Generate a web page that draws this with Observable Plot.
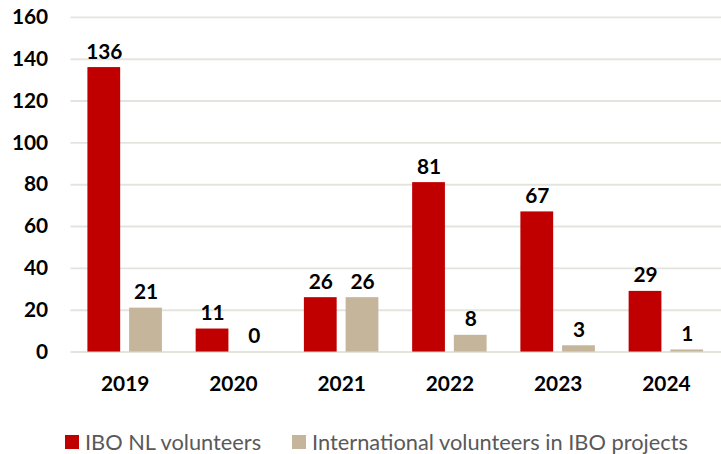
<!DOCTYPE html>
<html>
<head>
<meta charset="utf-8">
<script src="https://cdn.jsdelivr.net/npm/d3@7"></script>
<script src="https://cdn.jsdelivr.net/npm/@observablehq/plot@0.6"></script>
<style>
  html, body { margin: 0; padding: 0; background: #fff; }
  #wrap { position: relative; width: 721px; height: 454px; overflow: hidden; }
  #chart { position: absolute; left: 0; top: 0; }
  .legend { position: absolute; left: 0; top: 400px; width: 721px; height: 54px; font-family: Lato, sans-serif; font-size: 21.8px; color: #595959; }
  .item { position: absolute; top: 28px; display: flex; align-items: center; white-space: nowrap; }
  .sw { width: 14px; height: 14px; margin-right: 6px; }
</style>
</head>
<body>
<div id="wrap">
  <div id="chart"></div>
  <div class="legend">
    <div class="item" style="left:65px"><span class="sw" style="background:#c00000"></span><span>IBO NL volunteers</span></div>
    <div class="item" style="left:292px"><span class="sw" style="background:#c4b59b"></span><span>International volunteers in IBO projects</span></div>
  </div>
</div>
<script>
const years = ["2019", "2020", "2021", "2022", "2023", "2024"];
const nlVolunteers = [136, 11, 26, 81, 67, 29];
const intlVolunteers = [21, 0, 26, 8, 3, 1];
const seriesNames = ["IBO NL volunteers", "International volunteers in IBO projects"];
const seriesColors = ["#c00000", "#c4b59b"];
const yTicks = [0, 20, 40, 60, 80, 100, 120, 140, 160];

const nlData = years.map((y, i) => ({year: y, value: nlVolunteers[i], series: seriesNames[0]}));
const intlData = years.map((y, i) => ({year: y, value: intlVolunteers[i], series: seriesNames[1]}));

const chart = Plot.plot({
  width: 726,
  height: 400,
  marginLeft: 71,
  marginRight: 0,
  marginTop: 17,
  marginBottom: 46,
  style: {fontFamily: "Lato, sans-serif", fontSize: "21px", fontWeight: "bold", color: "#000", background: "#fff"},
  x: {domain: years, paddingInner: 0.308, paddingOuter: 0.154, tickSize: 0, tickPadding: 24, label: null},
  y: {domain: [0, 160], ticks: yTicks, tickSize: 0, tickPadding: 23, label: null, tickFormat: d => String(d)},
  color: {domain: seriesNames, range: seriesColors},
  marks: [
    Plot.ruleY(yTicks, {stroke: "#e4e4df", strokeWidth: 2}),
    Plot.barY(nlData, {x: "year", y: "value", fill: "series", insetRight: 42}),
    Plot.barY(intlData, {x: "year", y: "value", fill: "series", insetLeft: 42}),
    Plot.text(nlData, {x: "year", y: "value", text: d => String(d.value), dx: -21, dy: -9, lineAnchor: "bottom", fill: "#000"}),
    Plot.text(intlData, {x: "year", y: "value", text: d => String(d.value), dx: 21, dy: -9, lineAnchor: "bottom", fill: "#000"})
  ]
});
document.getElementById("chart").appendChild(chart);
</script>
</body>
</html>
